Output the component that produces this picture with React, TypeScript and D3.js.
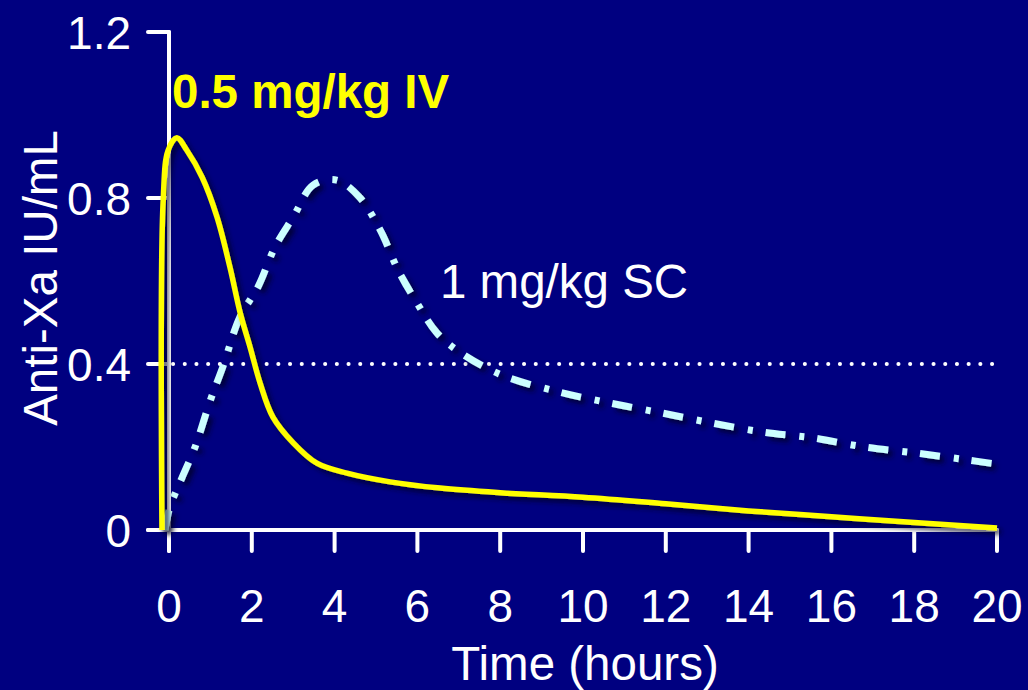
import React from "react";
import * as d3 from "d3";

const ivTime = [-0.17, -0.14, -0.02, 0.19, 0.43, 0.8, 1.16, 1.47, 1.72, 1.96, 2.2, 2.51, 3.0, 3.57, 4.3, 5.34, 6.55, 8, 10, 12, 14, 16, 18, 20];
const ivValue = [0, 0.795, 0.915, 0.945, 0.915, 0.85, 0.754, 0.634, 0.523, 0.44, 0.354, 0.272, 0.21, 0.161, 0.137, 0.116, 0.101, 0.09, 0.079, 0.063, 0.046, 0.032, 0.018, 0.005];

const scTime = [-0.1, 0.02, 0.31, 0.63, 1.0, 1.3, 1.71, 2.15, 2.56, 3.0, 3.48, 4.05, 4.6, 5.1, 5.53, 5.99, 6.47, 7.0, 8.0, 9.4, 10.65, 11.9, 13.1, 14.35, 15.55, 16.8, 18.07, 19.27, 19.9];
const scValue = [0, 0.055, 0.125, 0.2, 0.313, 0.393, 0.513, 0.586, 0.682, 0.754, 0.831, 0.843, 0.802, 0.723, 0.627, 0.547, 0.475, 0.43, 0.375, 0.333, 0.306, 0.282, 0.258, 0.236, 0.222, 0.2, 0.185, 0.169, 0.16];

const xTicks = [0, 2, 4, 6, 8, 10, 12, 14, 16, 18, 20];
const yTicks = [0, 0.4, 0.8, 1.2];
const yTickLabels = ["0", "0.4", "0.8", "1.2"];
const threshold = 0.4;

const W = 1028;
const H = 690;
const FONT = "'Liberation Sans', Arial, Helvetica, sans-serif";

export default function App() {
  const x = d3.scaleLinear().domain([0, 20]).range([169, 997]);
  const y = d3.scaleLinear().domain([0, 1.2]).range([530, 32]);

  const line = d3
    .line<[number, number]>()
    .x((d) => x(d[0]))
    .y((d) => y(d[1]))
    .curve(d3.curveCatmullRom.alpha(0.5));

  const ivPath = line(ivTime.map((t, i) => [t, ivValue[i]] as [number, number])) || "";
  const scPath = line(scTime.map((t, i) => [t, scValue[i]] as [number, number])) || "";

  const tickLen = 21;

  return (
    <svg
      width={W}
      height={H}
      style={{ position: "absolute", left: 0, top: 0, display: "block" }}
    >
      <defs>
        <filter id="shadow" x="-10%" y="-10%" width="130%" height="130%">
          <feDropShadow dx="4" dy="4" stdDeviation="2.5" floodColor="#000022" floodOpacity="0.75" />
        </filter>
      </defs>
      <rect x={0} y={0} width={W} height={H} fill="#000080" />

      {/* axes */}
      <g stroke="#ffffff" strokeWidth={4} strokeLinecap="round" fill="none">
        <line x1={x(0)} y1={y(1.2)} x2={x(0)} y2={y(0) + tickLen} />
        <line x1={x(0) - tickLen} y1={y(0)} x2={x(20)} y2={y(0)} />
        {yTicks.map((v) => (
          <line key={"yt" + v} x1={x(0) - tickLen} y1={y(v)} x2={x(0)} y2={y(v)} />
        ))}
        {xTicks.map((t) => (
          <line key={"xt" + t} x1={x(t)} y1={y(0)} x2={x(t)} y2={y(0) + tickLen} />
        ))}
      </g>

      {/* threshold dotted line */}
      <line
        x1={x(0) + 4}
        x2={x(20) - 2}
        y1={y(threshold)}
        y2={y(threshold)}
        stroke="#ffffff"
        strokeWidth={4}
        strokeLinecap="round"
        strokeDasharray="0.1 11.6"
      />

      {/* SC curve */}
      <path
        d={scPath}
        fill="none"
        stroke="#ccffff"
        strokeWidth={7}
        strokeDasharray="20 14 5 13"
        filter="url(#shadow)"
      />
      {/* IV curve */}
      <path
        d={ivPath}
        fill="none"
        stroke="#ffff00"
        strokeWidth={5.5}
        strokeLinejoin="round"
        filter="url(#shadow)"
      />

      {/* tick labels */}
      <g fill="#ffffff" fontFamily={FONT} fontSize={46}>
        {yTicks.map((v, i) => (
          <text key={"yl" + v} x={131} y={y(v) + 16.5} textAnchor="end">
            {yTickLabels[i]}
          </text>
        ))}
        {xTicks.map((t) => (
          <text key={"xl" + t} x={x(t)} y={622} textAnchor="middle">
            {t}
          </text>
        ))}
      </g>
      <g fill="#ffffff" fontFamily={FONT} fontSize={47.5}>
        <text x={585} y={680} textAnchor="middle">Time (hours)</text>
        <text transform="translate(57,278) rotate(-90)" textAnchor="middle">Anti-Xa IU/mL</text>
        <text x={440} y={298}>1 mg/kg SC</text>
      </g>
      <text x={172} y={108} fill="#ffff00" fontFamily={FONT} fontSize={47.5} fontWeight="bold">
        0.5 mg/kg IV
      </text>
    </svg>
  );
}
